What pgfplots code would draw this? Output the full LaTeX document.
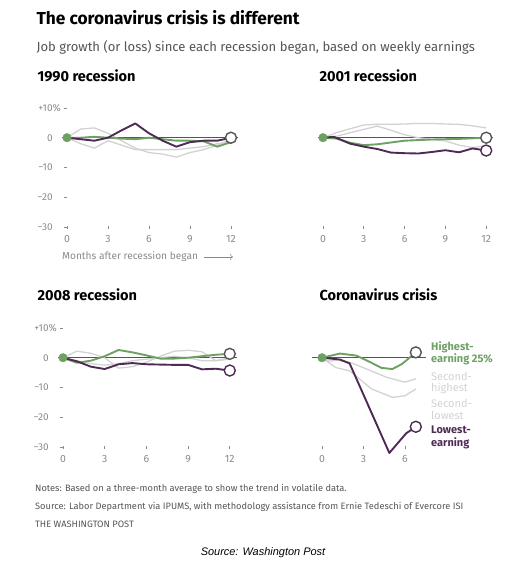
\documentclass[border=0pt]{standalone}
\usepackage{pgfplots}
\pgfplotsset{compat=1.18}
\usetikzlibrary{arrows.meta}
\usepackage{fontspec}
\setmainfont{Fira Sans}
\newfontfamily\capfont{Liberation Sans}
\definecolor{purp}{HTML}{4E2A55}
\definecolor{grn}{HTML}{6FA063}
\definecolor{lgray}{HTML}{D2D2D2}
\definecolor{zline}{HTML}{555555}
\definecolor{txtgray}{HTML}{666666}
\definecolor{tickgray}{HTML}{8A8A8A}
\pgfplotsset{
  panel/.style={scale only axis, axis line style={draw=none}, clip=false,
    ymin=-30, ymax=12, xmin=-0.1, height=125bp,
    xtick={0,3,6,9,12}, xtick pos=bottom, ytick pos=left,
    tick align=center, major tick length=3bp,
    tick style={tickgray, line width=0.6pt},
    /pgf/number format/assume math mode=true,
    xticklabel style={font=\fontsize{10.5}{11}\selectfont, text=tickgray, yshift=-3bp},
    yticklabel style={font=\fontsize{10}{11}\selectfont, text=tickgray, anchor=east, xshift=-8bp},
  },
  ylab/.style={ytick={-30,-20,-10,0,10}, yticklabels={−30,−20,−10,0,+10\rlap{\%}}},
  noylab/.style={ytick=\empty},
  zl/.style={zline, line width=1.1pt, no marks},
  gl/.style={lgray, line width=1.3pt, no marks},
  gr/.style={grn, line width=1.9pt, no marks, line join=round},
  pu/.style={purp, line width=1.9pt, no marks, line join=round},
  startdot/.style={only marks, mark=*, mark size=4.3bp, mark options={fill=grn, draw=grn}},
  endo/.style={only marks, mark=*, mark size=5.5bp, mark options={fill=white, draw=#1, line width=1.4pt}},
}
\begin{document}
\begin{tikzpicture}[x=1bp,y=1bp]
\path[use as bounding box] (0,0) rectangle (532,-562);
% titles
\node[anchor=west, font=\bfseries\fontsize{17.4}{20}\selectfont] at (33,-18) {The coronavirus crisis is different};
\node[anchor=west, font=\fontsize{13.1}{14}\selectfont, text=zline] at (33,-47) {Job growth (or loss) since each recession began, based on weekly earnings};
\node[anchor=west, font=\bfseries\fontsize{14.6}{16}\selectfont] at (34,-76) {1990 recession};
\node[anchor=west, font=\bfseries\fontsize{14.6}{16}\selectfont] at (316,-76) {2001 recession};
\node[anchor=west, font=\bfseries\fontsize{14.6}{16}\selectfont] at (34,-295) {2008 recession};
\node[anchor=west, font=\bfseries\fontsize{14.6}{16}\selectfont] at (316,-295) {Coronavirus crisis};
% ---- 1990
\begin{axis}[panel, ylab, at={(65.6bp,-227bp)}, anchor=south west, width=172.2bp, xmax=12.5]
\addplot[zl] coordinates {(-0.37,0) (12.5,0)};
\addplot[gl] coordinates {(0,0)(1,2.9)(2,3.3)(3,1.5)(4,-1)(5,-3.5)(6,-5)(7,-5.5)(8,-6.5)(9,-5)(10,-4)(11,-2.5)(12,-0.5)};
\addplot[gl] coordinates {(0,0)(1,-2)(2,-3.5)(3,-1)(4,-2.5)(5,-4)(6,-4)(7,-4)(8,-4)(9,-3.5)(10,-3)(11,-2)(12,-1.5)};
\addplot[gr] coordinates {(0,0)(1,0)(2,0.3)(3,0)(4,-0.3)(5,-0.5)(6,0)(7,-0.5)(8,-1)(9,-1)(10,-1.2)(11,-3)(12,-1.5)};
\addplot[pu] coordinates {(0,0)(1,-0.5)(2,-1)(3,0)(4,2.5)(5,4.8)(6,1.5)(7,-1)(8,-3)(9,-1.5)(10,-1)(11,-1)(12,0)};
\addplot[startdot] coordinates {(0,0)};
\addplot[endo=zline] coordinates {(12,0)};
\end{axis}
\node[anchor=west, font=\fontsize{10.2}{11}\selectfont, text=tickgray, inner sep=0] at (62,-257) {Months after recession began};
\draw[tickgray, line width=0.6pt, -{To[length=3bp]}] (204,-257) -- (233,-257);
% ---- 2001
\begin{axis}[panel, noylab, at={(321.6bp,-227bp)}, anchor=south west, width=171.4bp, xmax=12.5]
\addplot[zl] coordinates {(-0.37,0) (12.5,0)};
\addplot[gl] coordinates {(0,0)(1,1.7)(2,3)(3,4.3)(4,4.5)(5,4.5)(6,4.6)(7,4.8)(8,4.8)(9,4.6)(10,4.5)(11,4)(12,3.3)};
\addplot[gl] coordinates {(0,0)(1,0.5)(2,1.7)(3,2.8)(4,3.9)(5,2.5)(6,1)(7,0)(8,-0.6)(9,-1.1)(10,-2.5)(11,-3.3)(12,-2.7)};
\addplot[gr] coordinates {(0,0)(1,-0.3)(2,-1.7)(3,-2.5)(4,-2.2)(5,-1.6)(6,-1)(7,-0.8)(8,-0.6)(9,-0.5)(10,-0.4)(11,-0.2)(12,0)};
\addplot[pu] coordinates {(0,0)(0.8,0.3)(2,-2)(3,-3)(4,-3.8)(5,-5)(6,-5.2)(7,-5.3)(8,-4.8)(9,-4.2)(10,-4.9)(11,-3.6)(12,-4.3)};
\addplot[startdot] coordinates {(0,0)};
\addplot[endo=zline] coordinates {(12,0)};
\addplot[endo=purp] coordinates {(12,-4.3)};
\end{axis}
% ---- 2008
\begin{axis}[panel, ylab, at={(61.6bp,-447bp)}, anchor=south west, width=175.1bp, xmax=12.5]
\addplot[zl] coordinates {(-0.37,0) (12.5,0)};
\addplot[gl] coordinates {(0,0)(1,2.2)(2,1.5)(3,0)(4,-3.5)(5,-3)(6,-1.5)(7,0.5)(8,2.2)(9,2.5)(10,2)(11,-1)(12,-0.5)};
\addplot[gl] coordinates {(0,0)(1,-1)(2,-2)(3,-2.5)(4,-2)(5,-1)(6,-0.5)(7,0)(8,0.5)(9,0)(10,-1)(11,-1)(12,0)};
\addplot[gr] coordinates {(0,0)(1,-1.7)(2,-1)(3,0.5)(4,2.6)(5,1.8)(6,0.8)(7,-0.3)(8,-0.3)(9,0)(10,0.5)(11,1)(12,1.3)};
\addplot[pu] coordinates {(0,0)(1,-1.2)(2,-3)(3,-3.8)(4,-2.2)(5,-1.8)(6,-2.2)(7,-2.3)(8,-2.4)(9,-2.4)(10,-3.9)(11,-3.7)(12,-4.3)};
\addplot[startdot] coordinates {(0,0)};
\addplot[endo=zline] coordinates {(12,1.3)};
\addplot[endo=purp] coordinates {(12,-4.3)};
\end{axis}
% ---- Coronavirus
\begin{axis}[panel, noylab, at={(320.6bp,-447bp)}, anchor=south west, width=104.9bp, xmax=7.5, xtick={0,3,6}]
\addplot[gl] coordinates {(0,0)(0.5,-1.2)(1,-0.8)(2,-1.5)(3.5,-4.3)(4.7,-6.6)(6,-8.2)(6.8,-7.1)};
\addplot[gl] coordinates {(0,0)(1,-3.3)(2,-4.4)(3.6,-10.5)(5.1,-13.3)(6,-12.8)(6.8,-10.5)};
\addplot[zl] coordinates {(-0.75,0) (7.5,0)};
\addplot[gr] coordinates {(0,0)(1.3,1.4)(2.5,0.7)(3.5,-1.5)(4.3,-3.4)(5.1,-3.8)(5.8,-2.1)(6.8,1.8)};
\addplot[pu] coordinates {(0,0)(1.3,-0.6)(2.0,-1.9)(4.88,-32)(6.1,-25.4)(6.8,-23.2)};
\addplot[startdot] coordinates {(0,0)};
\addplot[endo=zline] coordinates {(6.8,1.8)};
\addplot[endo=purp] coordinates {(6.8,-23.2)};
\end{axis}
% panel 4 labels
\begin{scope}[every node/.style={anchor=west, inner sep=0, font=\fontsize{11}{12}\selectfont}]
\node[text=grn, font=\bfseries\fontsize{11}{12}\selectfont] at (431,-347) {Highest-};
\node[text=grn, font=\bfseries\fontsize{11}{12}\selectfont] at (431,-359.5) {earning 25\%};
\node[text=lgray] at (431,-376.5) {Second-};
\node[text=lgray] at (431,-388) {highest};
\node[text=lgray] at (431,-403) {Second-};
\node[text=lgray] at (431,-415) {lowest};
\node[text=purp, font=\bfseries\fontsize{11}{12}\selectfont] at (431,-430) {Lowest-};
\node[text=purp, font=\bfseries\fontsize{11}{12}\selectfont] at (431,-443) {earning};
\end{scope}
% notes
\begin{scope}[every node/.style={anchor=west, inner sep=0, text=zline, font=\fontsize{9.3}{10}\selectfont}]
\node at (35,-489) {Notes: Based on a three-month average to show the trend in volatile data.};
\node at (35,-507) {Source: Labor Department via IPUMS, with methodology assistance from Ernie Tedeschi of Evercore ISI};
\node at (35,-524) {THE WASHINGTON POST};
\end{scope}
\node[font=\capfont\itshape\fontsize{11}{12}\selectfont] at (263,-553) {Source: Washington Post};
\end{tikzpicture}
\end{document}
